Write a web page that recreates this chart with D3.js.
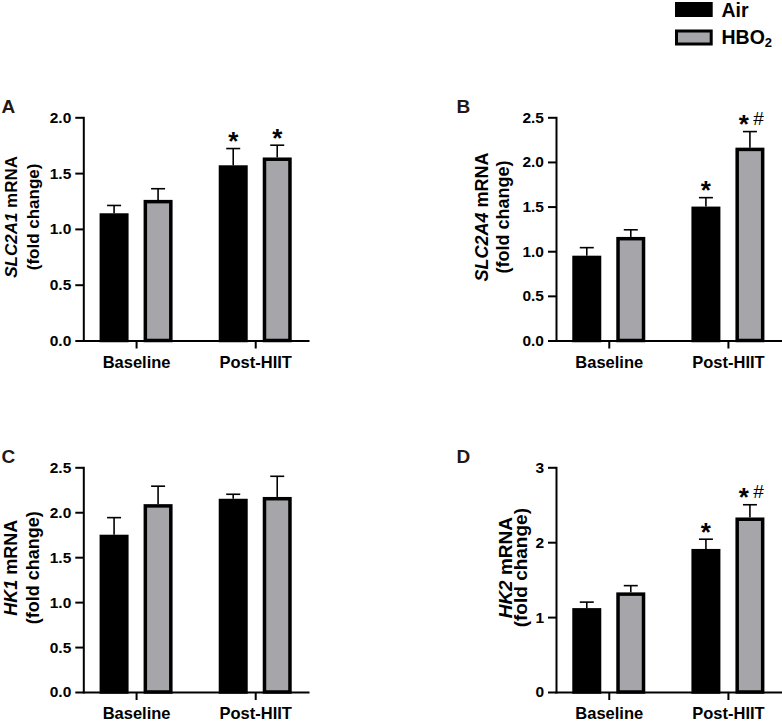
<!DOCTYPE html>
<html>
<head>
<meta charset="utf-8">
<script src="https://cdn.jsdelivr.net/npm/d3@7"></script>
<style>
  body { margin: 0; background: #fff; }
  text { font-family: "Liberation Sans", Arial, Helvetica, sans-serif; }
</style>
</head>
<body>
<div id="chart"></div>
<script>
// categories
var groups = ["Baseline", "Post-HIIT"];
var series = ["Air", "HBO2"];

// A: SLC2A1
var slc2a1Air = [1.14, 1.57];
var slc2a1AirSem = [0.07, 0.15];
var slc2a1Hbo = [1.26, 1.64];
var slc2a1HboSem = [0.10, 0.11];
var slc2a1AirSig = ["", "*"];
var slc2a1HboSig = ["", "*"];
var slc2a1Ticks = [0, 0.5, 1.0, 1.5, 2.0];

// B: SLC2A4
var slc2a4Air = [0.95, 1.50];
var slc2a4AirSem = [0.09, 0.10];
var slc2a4Hbo = [1.16, 2.16];
var slc2a4HboSem = [0.08, 0.18];
var slc2a4AirSig = ["", "*"];
var slc2a4HboSig = ["", "*#"];
var slc2a4Ticks = [0, 0.5, 1.0, 1.5, 2.0, 2.5];

// C: HK1
var hk1Air = [1.75, 2.15];
var hk1AirSem = [0.19, 0.05];
var hk1Hbo = [2.09, 2.17];
var hk1HboSem = [0.20, 0.23];
var hk1AirSig = ["", ""];
var hk1HboSig = ["", ""];
var hk1Ticks = [0, 0.5, 1.0, 1.5, 2.0, 2.5];

// D: HK2
var hk2Air = [1.12, 1.91];
var hk2AirSem = [0.08, 0.13];
var hk2Hbo = [1.33, 2.33];
var hk2HboSem = [0.09, 0.17];
var hk2AirSig = ["", "*"];
var hk2HboSig = ["", "*#"];
var hk2Ticks = [0, 1, 2, 3];

var svgWidth = 782;
var svgHeight = 721;
var plotWidth = 224.7;
var barStroke = 3.5;

var color = d3.scaleOrdinal()
    .domain(series)
    .range(["#000000", "#a5a5aa"]);

var svg = d3.select("#chart")
    .append("svg")
    .attr("width", svgWidth)
    .attr("height", svgHeight);

// panel settings (layout only) + the data arrays above
var panels = [
  { letter: "A", gene: "SLC2A1", left: 83.3, top: 117.3, bottom: 340.5,
    air: slc2a1Air, airSem: slc2a1AirSem, hbo: slc2a1Hbo, hboSem: slc2a1HboSem,
    airSig: slc2a1AirSig, hboSig: slc2a1HboSig, ticks: slc2a1Ticks, fmt: ".1f",
    labelSize: 17, line1: 66.8, line2: 44 },
  { letter: "B", gene: "SLC2A4", left: 556, top: 117.3, bottom: 340.5,
    air: slc2a4Air, airSem: slc2a4AirSem, hbo: slc2a4Hbo, hboSem: slc2a4HboSem,
    airSig: slc2a4AirSig, hboSig: slc2a4HboSig, ticks: slc2a4Ticks, fmt: ".1f",
    labelSize: 18, line1: 67.7, line2: 46.8 },
  { letter: "C", gene: "HK1", left: 83.3, top: 467.3, bottom: 692,
    air: hk1Air, airSem: hk1AirSem, hbo: hk1Hbo, hboSem: hk1HboSem,
    airSig: hk1AirSig, hboSig: hk1HboSig, ticks: hk1Ticks, fmt: ".1f",
    labelSize: 18, line1: 66.8, line2: 44 },
  { letter: "D", gene: "HK2", left: 556, top: 467.3, bottom: 692,
    air: hk2Air, airSem: hk2AirSem, hbo: hk2Hbo, hboSem: hk2HboSem,
    airSig: hk2AirSig, hboSig: hk2HboSig, ticks: hk2Ticks, fmt: "d",
    labelSize: 19, line1: 44.3, line2: 29.2 }
];

function drawPanel(p) {
    var g = svg.append("g");

    var x = d3.scalePoint()
        .domain(groups)
        .range([p.left, p.left + plotWidth])
        .padding(0.443);

    var xSub = d3.scaleBand()
        .domain(series)
        .range([-36.5, 36.5])
        .paddingInner(0.341);

    var y = d3.scaleLinear()
        .domain([0, d3.max(p.ticks)])
        .range([p.bottom, p.top]);

    // flatten into rows
    var rows = [];
    groups.forEach(function(grp, i) {
        rows.push({ group: grp, s: "Air", v: p.air[i], e: p.airSem[i], sig: p.airSig[i] });
        rows.push({ group: grp, s: "HBO2", v: p.hbo[i], e: p.hboSem[i], sig: p.hboSig[i] });
    });
    rows.forEach(function(d) {
        d.cx = x(d.group) + xSub(d.s) + xSub.bandwidth() / 2;
    });

    // error bars (upper only)
    g.selectAll(".err")
        .data(rows)
        .enter()
        .append("line")
        .attr("x1", d => d.cx)
        .attr("x2", d => d.cx)
        .attr("y1", d => y(d.v))
        .attr("y2", d => y(d.v + d.e))
        .attr("stroke", "#000")
        .attr("stroke-width", 1.6);

    g.selectAll(".cap")
        .data(rows)
        .enter()
        .append("line")
        .attr("x1", d => d.cx - 7)
        .attr("x2", d => d.cx + 7)
        .attr("y1", d => y(d.v + d.e))
        .attr("y2", d => y(d.v + d.e))
        .attr("stroke", "#000")
        .attr("stroke-width", 1.6);

    // bars
    g.selectAll(".bar")
        .data(rows)
        .enter()
        .append("rect")
        .attr("x", d => x(d.group) + xSub(d.s) + barStroke / 2)
        .attr("width", xSub.bandwidth() - barStroke)
        .attr("y", d => y(d.v) + barStroke / 2)
        .attr("height", d => y(0) - y(d.v) - barStroke / 2)
        .attr("fill", d => color(d.s))
        .attr("stroke", "#000")
        .attr("stroke-width", barStroke);

    // significance marks
    rows.filter(d => d.sig).forEach(function(d) {
        var inkBottom = y(d.v + d.e) - 7;
        var hasHash = d.sig.indexOf("#") >= 0;
        g.append("text")
            .attr("x", hasHash ? d.cx - 6 : d.cx)
            .attr("y", inkBottom + 8.5)
            .attr("text-anchor", "middle")
            .attr("font-size", "26px")
            .attr("font-weight", "bold")
            .text("*");
        if (hasHash) {
            g.append("text")
                .attr("x", d.cx + 8.5)
                .attr("y", inkBottom + 0.5)
                .attr("text-anchor", "middle")
                .attr("font-size", "19px")
                .text("#");
        }
    });

    // y axis
    var leftAxis = d3.axisLeft(y)
        .tickValues(p.ticks)
        .tickFormat(d3.format(p.fmt))
        .tickSize(8)
        .tickPadding(4)
        .tickSizeOuter(0);

    var yAxis = g.append("g")
        .attr("transform", `translate(${p.left}, 0)`)
        .call(leftAxis);

    // x axis
    var bottomAxis = d3.axisBottom(x)
        .tickSize(8)
        .tickPadding(7.5)
        .tickSizeOuter(0);

    var xAxis = g.append("g")
        .attr("transform", `translate(0, ${p.bottom})`)
        .call(bottomAxis);

    [yAxis, xAxis].forEach(function(ax) {
        ax.select(".domain")
            .attr("stroke", "#000")
            .attr("stroke-width", 2)
            .attr("stroke-linecap", "square");
        ax.selectAll(".tick line")
            .attr("stroke", "#000")
            .attr("stroke-width", 2);
        ax.selectAll(".tick text")
            .attr("fill", "#000")
            .attr("font-family", "'Liberation Sans', Arial, sans-serif")
            .attr("font-weight", "bold");
    });
    yAxis.selectAll(".tick text").attr("font-size", "15.5px");
    xAxis.selectAll(".tick text").attr("font-size", "16.5px");

    // y axis label (two lines)
    var cy = (p.top + p.bottom) / 2 - 12;
    var lab1 = g.append("text")
        .attr("transform", `translate(${p.left - p.line1}, ${cy}) rotate(-90)`)
        .attr("text-anchor", "middle")
        .attr("font-size", p.labelSize + "px")
        .attr("font-weight", "bold");
    lab1.append("tspan").attr("font-style", "italic").text(p.gene);
    lab1.append("tspan").text(" mRNA");

    g.append("text")
        .attr("transform", `translate(${p.left - p.line2}, ${cy}) rotate(-90)`)
        .attr("text-anchor", "middle")
        .attr("font-size", p.labelSize + "px")
        .attr("font-weight", "bold")
        .text("(fold change)");

    // panel letter
    g.append("text")
        .attr("x", p.letter === "A" || p.letter === "C" ? 1.5 : 456.5)
        .attr("y", p.top - 4)
        .attr("font-size", "19px")
        .attr("font-weight", "bold")
        .attr("fill", "#231815")
        .text(p.letter);
}

panels.forEach(drawPanel);

// legend
var legend = svg.append("g");
var legendY = d3.scalePoint().domain(series).range([2, 29.5]);

legend.selectAll("rect")
    .data(series)
    .enter()
    .append("rect")
    .attr("x", d => d === "Air" ? 675 : 676.5)
    .attr("y", d => d === "Air" ? legendY(d) : legendY(d) + 1.5)
    .attr("width", d => d === "Air" ? 37.7 : 34.7)
    .attr("height", d => d === "Air" ? 15 : 13)
    .attr("fill", d => color(d))
    .attr("stroke", d => d === "Air" ? "none" : "#000")
    .attr("stroke-width", 3);

var legendText = legend.selectAll("text")
    .data(series)
    .enter()
    .append("text")
    .attr("x", 721.5)
    .attr("y", d => legendY(d) + 14.7)
    .attr("font-size", "19.5px")
    .attr("font-weight", "bold");

legendText.each(function(d) {
    var t = d3.select(this);
    if (d === "HBO2") {
        t.append("tspan").text("HBO");
        t.append("tspan").attr("font-size", "13px").attr("dy", 3).text("2");
    } else {
        t.text(d);
    }
});
</script>
</body>
</html>
